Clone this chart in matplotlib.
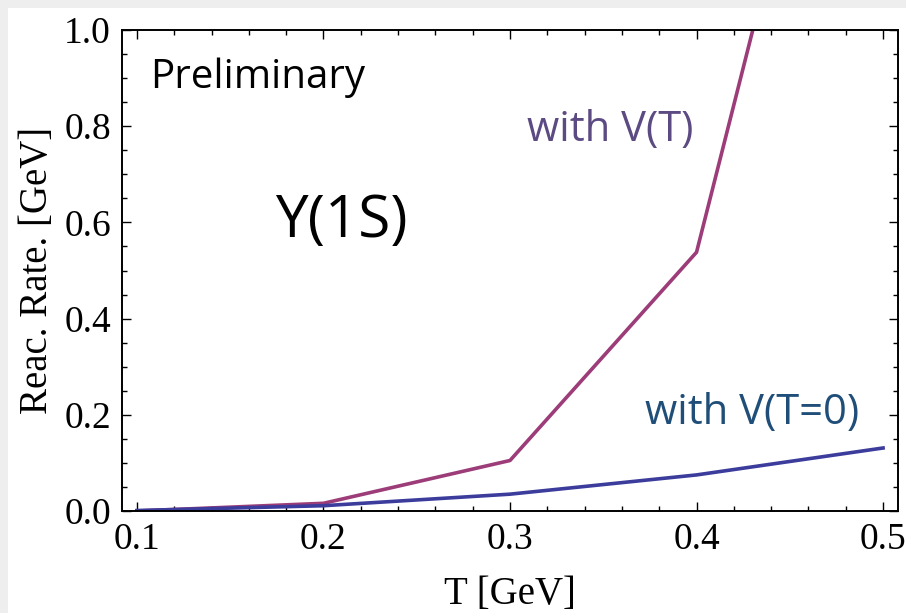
import matplotlib.pyplot as plt
from matplotlib.patches import Rectangle
from matplotlib.ticker import MultipleLocator

# temperature grid [GeV]
T = [0.1, 0.2, 0.3, 0.4, 0.5]
rate_vT = [0.0, 0.016, 0.105, 0.538, 2.07]    # with V(T)
rate_v0 = [0.001, 0.011, 0.035, 0.075, 0.131]  # with V(T=0)

fig = plt.figure(figsize=(9.06, 6.13), dpi=100, facecolor='#eeeeee')
fig.patches.append(Rectangle((8/906, 0), 1, 1 - 8/613, transform=fig.transFigure,
                             facecolor='white', edgecolor='none', zorder=-1))
ax = fig.add_axes([122/906, 102/613, 776/906, 481/613])

ax.plot(T, rate_vT, color='#9c3c78', lw=2.6)
ax.plot(T, rate_v0, color='#3c3c9c', lw=2.6)

ax.set_xlim(0.092, 0.508)
ax.set_ylim(0, 1.0)
ax.xaxis.set_major_locator(MultipleLocator(0.1))
ax.xaxis.set_minor_locator(MultipleLocator(0.02))
ax.yaxis.set_major_locator(MultipleLocator(0.2))
ax.yaxis.set_minor_locator(MultipleLocator(0.05))
ax.xaxis.set_major_formatter(plt.FuncFormatter(lambda v, p: '%.1f' % v))
ax.yaxis.set_major_formatter(plt.FuncFormatter(lambda v, p: '%.1f' % v))
ax.tick_params(which='both', direction='in', top=True, right=True, width=1.0,
               labelsize=27, labelfontfamily='Liberation Serif')
ax.tick_params(which='major', length=6.5, pad=8)
ax.tick_params(which='minor', length=3.6)
for s in ax.spines.values():
    s.set_linewidth(1.4)

ax.set_xlabel('T [GeV]', family='Liberation Serif', fontsize=28, labelpad=14)
ax.set_ylabel('Reac. Rate. [GeV]', family='Liberation Serif', fontsize=28, labelpad=6)

sans = 'Open Sans'
fig.text(150/906, 1 - 78/613, 'Preliminary', family=sans, fontsize=29,
         va='center', ha='left')
fig.text(275/906, 1 - 222/613, 'Y(1S)', family=sans, fontsize=42,
         va='center', ha='left')
fig.text(527/906, 1 - 130/613, 'with V(T)', family=sans, fontsize=30,
         color='#5c4a82', va='center', ha='left')
fig.text(645/906, 1 - 413/613, 'with V(T=0)', family=sans, fontsize=30,
         color='#1f4e79', va='center', ha='left')

fig.savefig('out.png', dpi=100, facecolor=fig.get_facecolor())
